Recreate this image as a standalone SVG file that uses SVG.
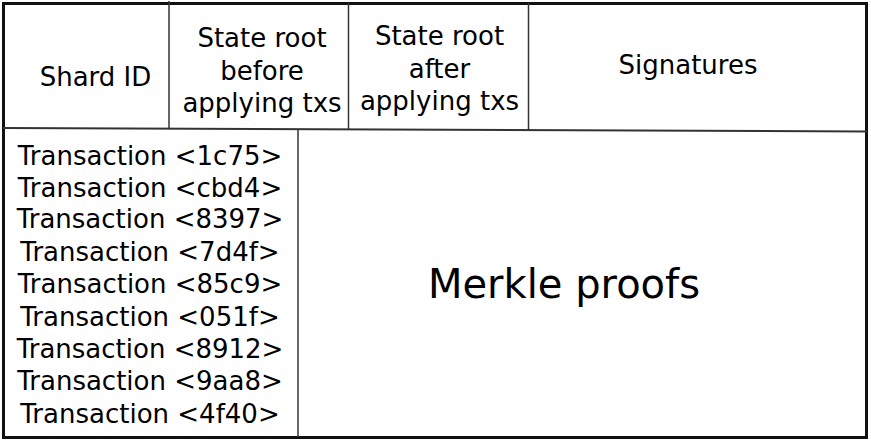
<svg xmlns="http://www.w3.org/2000/svg" width="871" height="441" viewBox="0 0 871 441">
<style>
text{font-family:"DejaVu Sans",sans-serif;font-size:26px;fill:#000;text-anchor:middle}
.big{font-size:40px}
.div{stroke:#333;stroke-width:1.5;fill:none}
.border{stroke:#111;stroke-width:3;fill:none}
</style>
<rect width="871" height="441" fill="#fff"/>
<g id="connectors">
<rect class="border" x="3.5" y="3.5" width="863" height="434"/>
<line class="div" x1="3" y1="128" x2="867" y2="131.5" style="stroke-width:2"/>
<line class="div" x1="169" y1="1" x2="169" y2="128.5"/>
<line class="div" x1="348.5" y1="3" x2="348.5" y2="129"/>
<line class="div" x1="528.5" y1="3" x2="528.5" y2="130"/>
<line class="div" x1="298" y1="129.5" x2="298" y2="437"/>
</g>
<g id="shard-id"><text x="95.5" y="86">Shard ID</text></g>
<g id="state-root-before"><text x="262" y="47">State root</text><text x="262" y="80">before</text><text x="262" y="112">applying txs</text></g>
<g id="state-root-after"><text x="439.5" y="45">State root</text><text x="439.5" y="78">after</text><text x="439.5" y="110">applying txs</text></g>
<g id="signatures"><text x="688" y="74">Signatures</text></g>
<g id="transactions">
<text x="150" y="165">Transaction &lt;1c75&gt;</text>
<text x="150" y="197">Transaction &lt;cbd4&gt;</text>
<text x="150" y="228">Transaction &lt;8397&gt;</text>
<text x="150" y="261">Transaction &lt;7d4f&gt;</text>
<text x="150" y="293">Transaction &lt;85c9&gt;</text>
<text x="150" y="326">Transaction &lt;051f&gt;</text>
<text x="150" y="358">Transaction &lt;8912&gt;</text>
<text x="150" y="390">Transaction &lt;9aa8&gt;</text>
<text x="150" y="423">Transaction &lt;4f40&gt;</text>
</g>
<g id="merkle-proofs"><text class="big" x="564" y="298">Merkle proofs</text></g>
</svg>
